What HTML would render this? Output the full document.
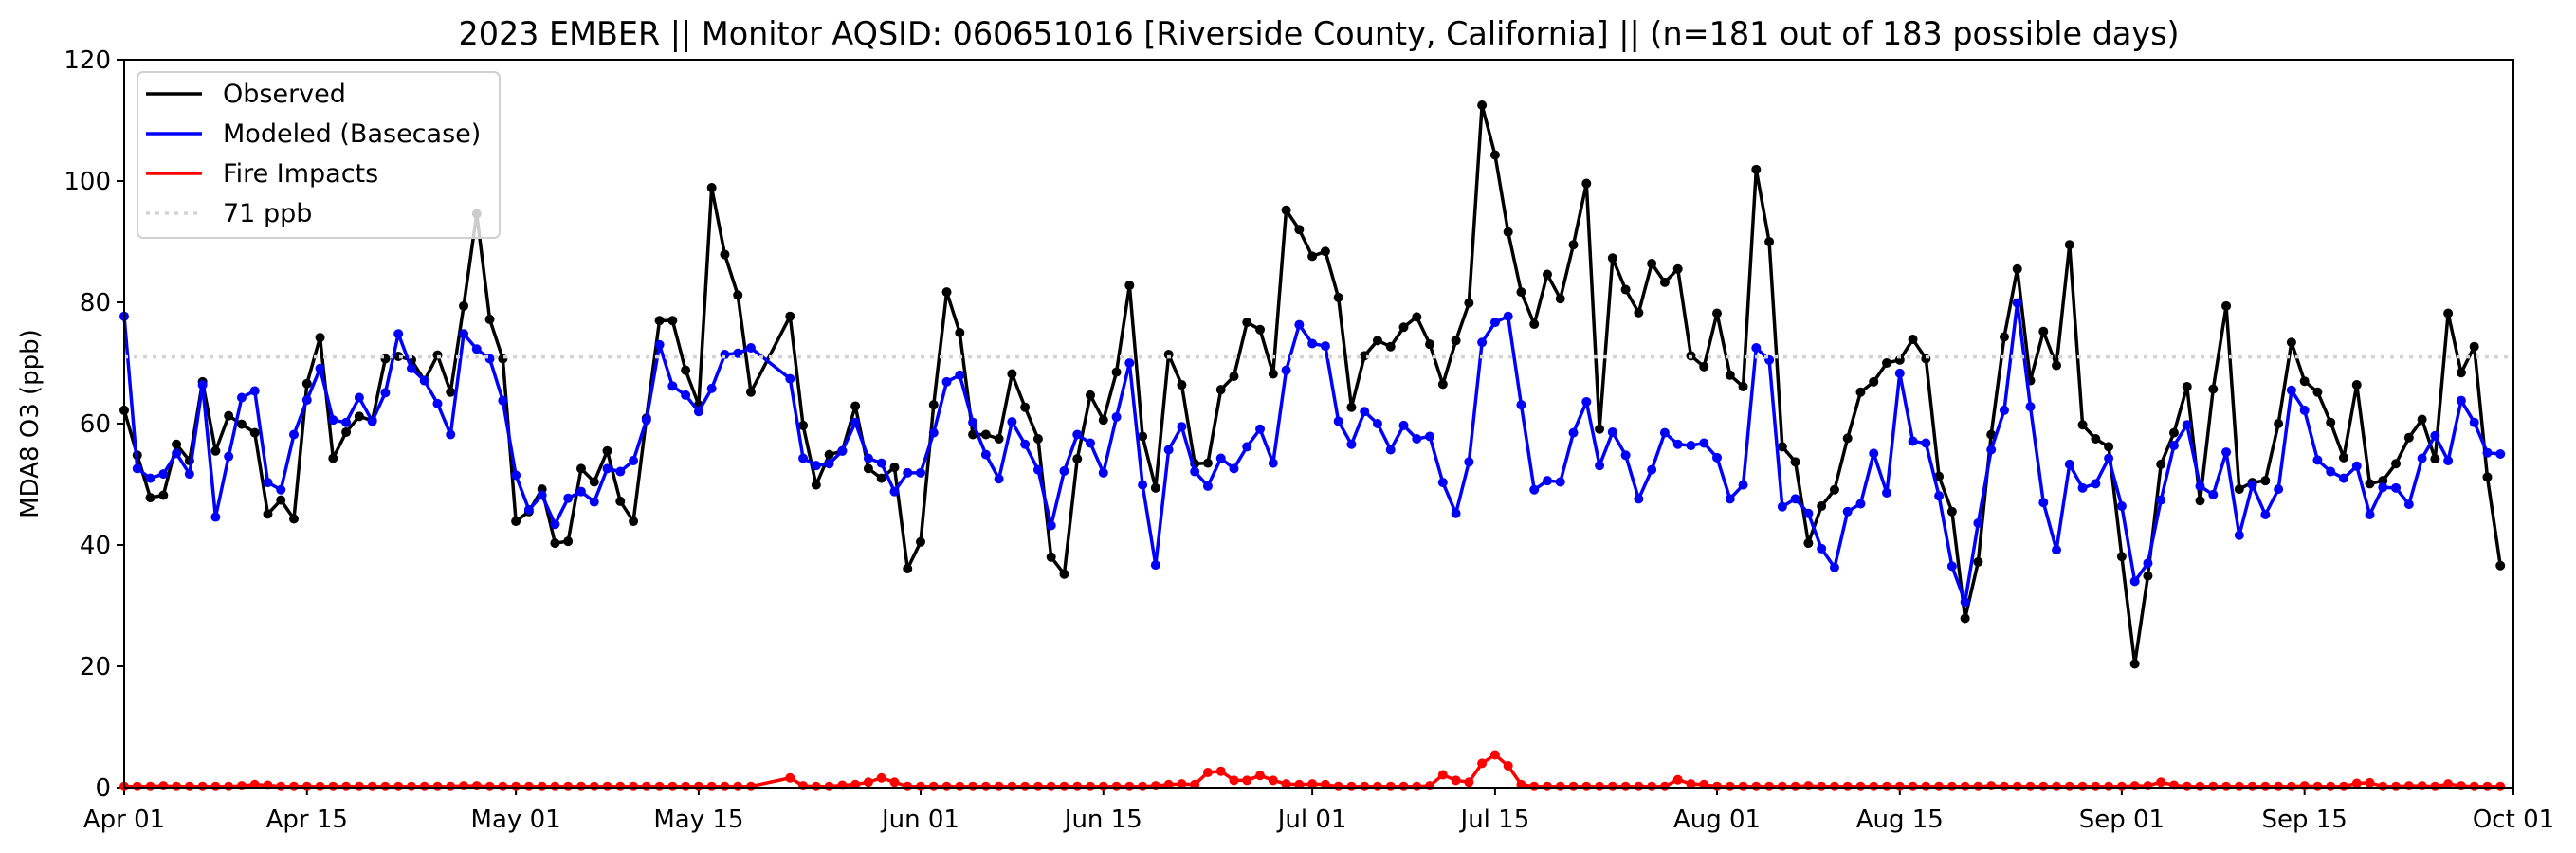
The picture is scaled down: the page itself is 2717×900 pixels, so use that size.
<!DOCTYPE html>
<html>
<head>
<meta charset="utf-8">
<style>
html,body{margin:0;padding:0;background:#fff;}
svg{display:block;font-family:"DejaVu Sans","Liberation Sans",sans-serif;}
</style>
</head>
<body>
<svg id="chart" width="2717" height="900" viewBox="0 0 2717 900" xmlns="http://www.w3.org/2000/svg">
  <rect x="0" y="0" width="2717" height="900" fill="#fff"/>
  <text x="1391" y="47" text-anchor="middle" font-size="33.4" fill="#000">2023 EMBER || Monitor AQSID: 060651016 [Riverside County, California] || (n=181 out of 183 possible days)</text>
  <text transform="translate(40,447) rotate(-90)" text-anchor="middle" font-size="26" fill="#000">MDA8 O3 (ppb)</text>
  <g id="grid-layer"></g>
  <g id="series-layer"></g>
  <rect x="131" y="63" width="2520" height="768" fill="none" stroke="#000" stroke-width="2"/>
  <g>
    <rect x="145" y="76" width="382" height="175" rx="6" fill="#fff" fill-opacity="0.8" stroke="#d0d0d0" stroke-width="2"/>
    <g>
      <line x1="154" y1="99" x2="213" y2="99" stroke="#000" stroke-width="3.5"/>
      <text x="235" y="108" font-size="27">Observed</text>
    </g>
    <g>
      <line x1="154" y1="141" x2="213" y2="141" stroke="#0000ff" stroke-width="3.5"/>
      <text x="235" y="150" font-size="27">Modeled (Basecase)</text>
    </g>
    <g>
      <line x1="154" y1="183" x2="213" y2="183" stroke="#ff0000" stroke-width="3.5"/>
      <text x="235" y="192" font-size="27">Fire Impacts</text>
    </g>
    <g>
      <line x1="154" y1="225" x2="213" y2="225" stroke="#d3d3d3" stroke-width="3.5" stroke-dasharray="4,6"/>
      <text x="235" y="234" font-size="27">71 ppb</text>
    </g>
  </g>
</svg>
<script>
const tickDays = [0,14,30,44,61,75,91,105,122,136,153,167,183];
const tickLabels = ["Apr 01","Apr 15","May 01","May 15","Jun 01","Jun 15","Jul 01","Jul 15","Aug 01","Aug 15","Sep 01","Sep 15","Oct 01"];
const yTicks = [0,20,40,60,80,100,120];
const threshold = 71;
const observed = [62.2,54.8,47.8,48.2,56.6,53.9,66.9,55.5,61.3,59.9,
58.5,45.1,47.4,44.3,66.6,74.2,54.3,58.6,61.2,60.5,
70.7,71.1,70.5,67.1,71.3,65.2,79.4,94.6,77.2,70.7,
43.9,45.5,49.2,40.3,40.6,52.6,50.4,55.5,47.2,43.9,
60.9,77.0,77.0,68.8,63.1,98.9,87.9,81.2,65.2,null,
null,77.7,59.7,49.9,54.9,55.5,62.9,52.6,51.0,52.8,
36.1,40.5,63.1,81.7,75.0,58.2,58.2,57.5,68.2,62.7,
57.5,38.0,35.2,54.2,64.7,60.6,68.5,82.8,57.9,49.4,
71.4,66.4,53.4,53.5,65.6,67.8,76.7,75.5,68.2,95.2,
92.0,87.6,88.4,80.8,62.7,71.2,73.7,72.7,75.9,77.6,
73.1,66.5,73.7,79.9,112.5,104.3,91.6,81.7,76.4,84.6,
80.6,89.5,99.6,59.1,87.3,82.1,78.3,86.4,83.3,85.5,
71.2,69.4,78.2,68.0,66.1,101.9,90.0,56.2,53.7,40.3,
46.4,49.1,57.6,65.2,66.9,70.0,70.5,73.9,70.7,51.3,
45.5,27.9,37.2,58.2,74.3,85.5,67.1,75.2,69.6,89.5,
59.8,57.5,56.2,38.1,20.4,34.9,53.3,58.5,66.1,47.3,
65.7,79.4,49.2,50.3,50.6,60.0,73.4,67.0,65.2,60.2,
54.4,66.4,50.1,50.6,53.4,57.7,60.7,54.2,78.2,68.4,
72.7,51.2,36.6];
const modeled = [77.7,52.6,51.0,51.7,55.1,51.7,66.4,44.6,54.6,64.3,
65.4,50.3,49.1,58.2,63.9,69.1,60.6,60.2,64.3,60.4,
65.1,74.8,69.1,67.1,63.3,58.2,74.8,72.3,70.7,63.8,
51.5,45.8,48.2,43.4,47.7,48.8,47.1,52.6,52.1,53.9,
60.6,73.0,66.2,64.7,62.0,65.8,71.4,71.6,72.5,null,
null,67.4,54.3,53.1,53.4,55.5,60.2,54.3,53.5,48.8,
51.9,51.9,58.5,66.9,68.0,60.2,54.9,50.9,60.3,56.6,
52.4,43.2,52.2,58.2,56.8,51.9,61.1,70.0,49.9,36.7,
55.7,59.5,52.1,49.7,54.3,52.6,56.2,59.1,53.5,68.8,
76.3,73.2,72.8,60.4,56.6,62.0,60.0,55.7,59.7,57.5,
57.9,50.3,45.2,53.7,73.4,76.7,77.7,63.1,49.1,50.6,
50.4,58.5,63.6,53.1,58.6,54.8,47.6,52.4,58.5,56.6,
56.4,56.8,54.4,47.6,49.9,72.5,70.5,46.3,47.6,45.2,
39.4,36.3,45.5,46.8,55.1,48.6,68.3,57.1,56.8,48.1,
36.5,30.6,43.6,55.7,62.2,79.9,62.8,47.0,39.2,53.3,
49.4,50.1,54.3,46.4,34.0,37.0,47.4,56.4,59.8,49.7,
48.3,55.3,41.6,49.9,45.0,49.2,65.5,62.2,54.0,52.1,
51.0,53.0,45.0,49.5,49.4,46.7,54.3,58.0,53.9,63.8,
60.2,55.2,55.0];
const fire = [0.2,0.2,0.2,0.3,0.2,0.2,0.2,0.2,0.2,0.3,
0.5,0.4,0.2,0.2,0.2,0.2,0.2,0.2,0.2,0.2,
0.2,0.2,0.2,0.2,0.2,0.2,0.3,0.3,0.2,0.2,
0.2,0.2,0.2,0.2,0.2,0.2,0.2,0.2,0.2,0.2,
0.2,0.2,0.2,0.2,0.2,0.2,0.2,0.2,0.2,null,
null,1.6,0.3,0.2,0.2,0.4,0.5,0.9,1.6,0.9,
0.2,0.2,0.2,0.2,0.2,0.2,0.2,0.2,0.2,0.2,
0.2,0.2,0.2,0.2,0.2,0.2,0.2,0.2,0.2,0.3,
0.5,0.6,0.5,2.5,2.7,1.2,1.2,2.0,1.2,0.6,
0.5,0.6,0.5,0.2,0.2,0.2,0.2,0.2,0.2,0.2,
0.3,2.1,1.2,0.9,4.0,5.4,3.6,0.5,0.2,0.2,
0.2,0.2,0.2,0.2,0.2,0.2,0.2,0.2,0.2,1.3,
0.6,0.5,0.2,0.2,0.2,0.2,0.2,0.2,0.2,0.3,
0.2,0.2,0.2,0.2,0.2,0.2,0.2,0.2,0.2,0.2,
0.2,0.2,0.2,0.3,0.2,0.2,0.2,0.2,0.2,0.2,
0.2,0.2,0.2,0.2,0.3,0.3,0.9,0.4,0.2,0.2,
0.2,0.2,0.2,0.2,0.2,0.2,0.2,0.3,0.2,0.2,
0.2,0.7,0.8,0.2,0.2,0.3,0.3,0.2,0.6,0.3,
0.2,0.2,0.2];

const NS = "http://www.w3.org/2000/svg";
const X0 = 131, X1 = 2651, Y0 = 831, Y1 = 63, NDAYS = 183, YMAX = 120;
function xScale(d){ return X0 + d * (X1 - X0) / NDAYS; }
function yScale(v){ return Y0 - v * (Y0 - Y1) / YMAX; }
function mk(tag, attrs){
  const e = document.createElementNS(NS, tag);
  for (const k in attrs) e.setAttribute(k, attrs[k]);
  return e;
}
const grid = document.getElementById('grid-layer');
tickDays.forEach((d, i) => {
  const x = xScale(d);
  const t = mk('line', {x1:x, y1:Y0, x2:x, y2:Y0+8, stroke:'#000', 'stroke-width':2});
  
  
  grid.appendChild(t);
  const lab = mk('text', {x:x, y:873, 'text-anchor':'middle', 'font-size':26, fill:'#000'});
  
  
  lab.textContent = tickLabels[i];
  grid.appendChild(lab);
});
yTicks.forEach(v => {
  const y = yScale(v);
  const t = mk('line', {x1:X0-8, y1:y, x2:X0, y2:y, stroke:'#000', 'stroke-width':2});
  
  
  grid.appendChild(t);
  const lab = mk('text', {x:X0-14, y:y+9, 'text-anchor':'end', 'font-size':26, fill:'#000'});
  
  
  lab.textContent = String(v);
  grid.appendChild(lab);
});

const layer = document.getElementById('series-layer');
function drawSeries(values, color, name){
  const g = mk('g', {});
  
  
  let dstr = '';
  values.forEach((v, i) => {
    if (v === null) return;
    dstr += (dstr ? 'L' : 'M') + xScale(i).toFixed(2) + ',' + yScale(v).toFixed(2);
  });
  const p = mk('path', {d:dstr, fill:'none', stroke:color, 'stroke-width':3.5, 'stroke-linejoin':'round'});
  
  
  g.appendChild(p);
  values.forEach((v, i) => {
    if (v === null) return;
    const c = mk('circle', {cx:xScale(i), cy:yScale(v), r:5, fill:color});
    
    
    g.appendChild(c);
  });
  layer.appendChild(g);
}
drawSeries(observed, '#000000', 'observed');
drawSeries(modeled, '#0000ff', 'modeled');
drawSeries(fire, '#ff0000', 'fire-impacts');
const th = mk('line', {x1:X0, y1:yScale(threshold), x2:X1, y2:yScale(threshold), stroke:'#d3d3d3', 'stroke-width':3.5, 'stroke-dasharray':'4,6'});


layer.appendChild(th);
</script>
</body>
</html>
